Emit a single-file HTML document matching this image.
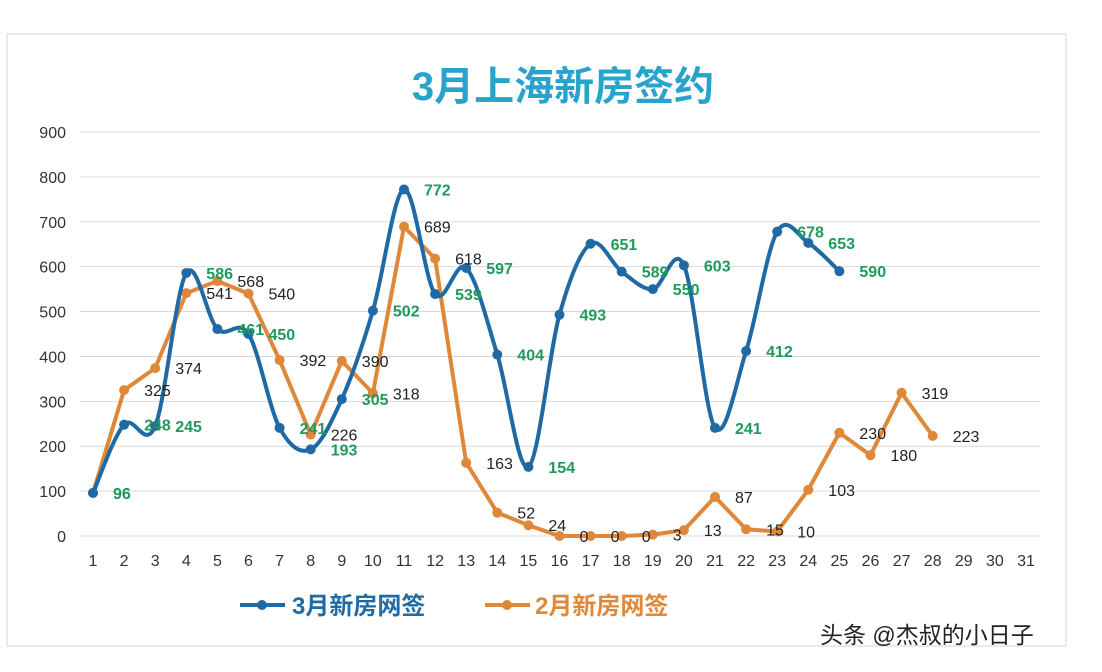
<!DOCTYPE html>
<html><head><meta charset="utf-8"><style>
body{margin:0;background:#fff;width:1102px;height:672px;overflow:hidden;font-family:"Liberation Sans","Noto Sans CJK SC",sans-serif;}
svg{position:absolute;left:0;top:0}
</style></head><body>
<svg id="c" width="1102" height="672">
<rect x="7" y="34" width="1059" height="612" fill="#fff" stroke="#d4d4d4"/>
<text x="563" y="100" text-anchor="middle" font-size="40" font-weight="bold" fill="#27a3cc" font-family="Liberation Sans,Noto Sans CJK SC,sans-serif">3月上海新房签约</text>
<g id="grid"></g><g id="series"></g><g id="labels"></g>
<g>
<g>
<line x1="240" y1="605" x2="285" y2="605" stroke="#1f6aa5" stroke-width="4"/><circle cx="262" cy="605" r="5" fill="#1f6aa5"/>
<text x="292" y="614" font-size="24" fill="#1f6aa5" font-weight="bold">3月新房网签</text></g>
<g>
<line x1="485" y1="605" x2="530" y2="605" stroke="#e0883a" stroke-width="4"/><circle cx="507" cy="605" r="5" fill="#e0883a"/>
<text x="535" y="614" font-size="24" fill="#e0883a" font-weight="bold">2月新房网签</text></g>
</g>
<text x="820" y="643" font-size="23" fill="#222">头条 @杰叔的小日子</text>
</svg>
<script>
const days=[1,2,3,4,5,6,7,8,9,10,11,12,13,14,15,16,17,18,19,20,21,22,23,24,25,26,27,28,29,30,31];
const yTicks=[0,100,200,300,400,500,600,700,800,900];
const marchValues=[96,248,245,586,461,450,241,193,305,502,772,539,597,404,154,493,651,589,550,603,241,412,678,653,590];
const febValues=[96,325,374,541,568,540,392,226,390,318,689,618,163,52,24,0,0,0,3,13,87,15,10,103,230,180,319,223];
const NS='http://www.w3.org/2000/svg';
function X(d){return 93+(d-1)*(1026-93)/30;}
function Y(v){return 536-v*(536-132)/900;}
function mk(t,a,p){const e=document.createElementNS(NS,t);for(const k in a)e.setAttribute(k,a[k]);p.appendChild(e);return e;}
const grid=document.getElementById('grid');
yTicks.forEach(v=>{
 const l=mk('line',{x1:80,x2:1040,y1:Y(v),y2:Y(v),stroke:'#d9d9d9','stroke-width':1},grid);
 
 
 const t=mk('text',{x:66,y:Y(v)+6,'text-anchor':'end','font-size':16,fill:'#333'},grid);t.textContent=v;
 
 
});
days.forEach(d=>{
 const t=mk('text',{x:X(d),y:566,'text-anchor':'middle','font-size':16,fill:'#333'},grid);t.textContent=d;
 
 
});
function path(vals){
 const p=vals.map((v,i)=>[X(i+1),Y(v)]);let d='M'+p[0][0]+','+p[0][1];
 for(let i=0;i<p.length-1;i++){const p0=p[i-1]||p[i],p1=p[i],p2=p[i+1],p3=p[i+2]||p2;
  d+=' C'+(p1[0]+(p2[0]-p0[0])/6)+','+(p1[1]+(p2[1]-p0[1])/6)+' '+(p2[0]-(p3[0]-p1[0])/6)+','+(p2[1]-(p3[1]-p1[1])/6)+' '+p2[0]+','+p2[1];}
 return d;}
const sg=document.getElementById('series'),lg=document.getElementById('labels');
function draw(vals,color,name,smooth,lc,bold){
 const g=mk('g',{},sg);
 
 
 const d=smooth?path(vals):'M'+vals.map((v,i)=>X(i+1)+','+Y(v)).join(' L');
 mk('path',{d:d,fill:'none',stroke:color,'stroke-width':4},g);
 vals.forEach((v,i)=>{
  const c=mk('circle',{cx:X(i+1),cy:Y(v),r:5,fill:color},g);
  
  
  const t=mk('text',{x:X(i+1)+20,y:Y(v)+6,'font-size':16,fill:lc,'font-weight':bold?'bold':'normal'},lg);t.textContent=v;
  
  
 });
}
draw(febValues,'#e0883a','february-series',false,'#222',false);
draw(marchValues,'#1f6aa5','march-series',true,'#1e9a5c',true);
</script>
</body></html>
